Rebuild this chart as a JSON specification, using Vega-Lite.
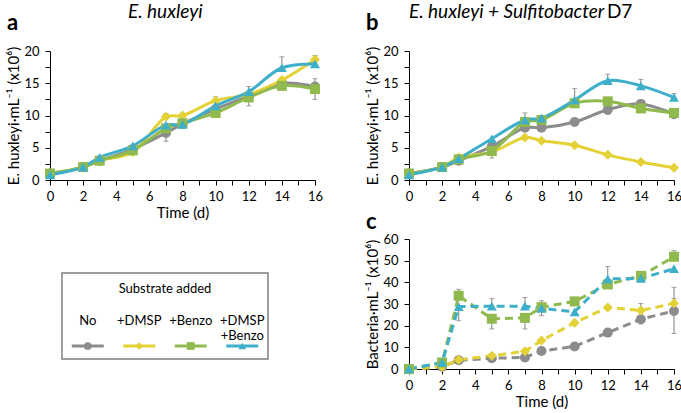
{
 "$schema": "https://vega.github.io/schema/vega-lite/v6.json",
 "padding": {"left": 6, "top": 3, "right": 0, "bottom": 0},
 "title": {"text": "D7", "anchor": "start", "frame": "bounds", "fontSize": 19, "dx": 600, "offset": -19},
 "config": {
  "font": "Lato",
  "view": {"stroke": null},
  "axis": {"domainColor": "black", "tickColor": "black", "labelColor": "black", "titleColor": "black", "labelFontSize": 13, "titleFontSize": 15, "titleFontWeight": "normal", "grid": false, "tickSize": 5, "labelPadding": 5, "labelFlush": false, "labelOverlap": false},
  "axisY": {"labelPadding": 6},
  "title": {"color": "black", "fontWeight": "normal"}
 },
 "datasets": {
  "d": [
   {"p":"a","s":"No","day":0,"v":1},{"p":"a","s":"No","day":2,"v":2},{"p":"a","s":"No","day":3,"v":3},{"p":"a","s":"No","day":5,"v":4.8},{"p":"a","s":"No","day":7,"v":7.3},{"p":"a","s":"No","day":8,"v":8.7},{"p":"a","s":"No","day":10,"v":11},{"p":"a","s":"No","day":12,"v":13},{"p":"a","s":"No","day":14,"v":15},{"p":"a","s":"No","day":16,"v":14.5},
   {"p":"a","s":"+DMSP","day":0,"v":1},{"p":"a","s":"+DMSP","day":2,"v":2},{"p":"a","s":"+DMSP","day":3,"v":3},{"p":"a","s":"+DMSP","day":5,"v":4.3},{"p":"a","s":"+DMSP","day":7,"v":9.8},{"p":"a","s":"+DMSP","day":8,"v":10},{"p":"a","s":"+DMSP","day":10,"v":12.3},{"p":"a","s":"+DMSP","day":12,"v":13.3},{"p":"a","s":"+DMSP","day":14,"v":15.5},{"p":"a","s":"+DMSP","day":16,"v":18.7},
   {"p":"a","s":"+Benzo","day":0,"v":1},{"p":"a","s":"+Benzo","day":2,"v":2},{"p":"a","s":"+Benzo","day":3,"v":3},{"p":"a","s":"+Benzo","day":5,"v":4.6},{"p":"a","s":"+Benzo","day":7,"v":8},{"p":"a","s":"+Benzo","day":8,"v":8.8},{"p":"a","s":"+Benzo","day":10,"v":10.4},{"p":"a","s":"+Benzo","day":12,"v":12.8},{"p":"a","s":"+Benzo","day":14,"v":14.6},{"p":"a","s":"+Benzo","day":16,"v":14.1},
   {"p":"a","s":"+DMSP +Benzo","day":0,"v":0.8},{"p":"a","s":"+DMSP +Benzo","day":2,"v":2},{"p":"a","s":"+DMSP +Benzo","day":3,"v":3.5},{"p":"a","s":"+DMSP +Benzo","day":5,"v":5.3},{"p":"a","s":"+DMSP +Benzo","day":7,"v":8.5},{"p":"a","s":"+DMSP +Benzo","day":8,"v":8.6},{"p":"a","s":"+DMSP +Benzo","day":10,"v":11.5},{"p":"a","s":"+DMSP +Benzo","day":12,"v":13.7},{"p":"a","s":"+DMSP +Benzo","day":14,"v":17.4},{"p":"a","s":"+DMSP +Benzo","day":16,"v":18},
   {"p":"b","s":"No","day":0,"v":1},{"p":"b","s":"No","day":2,"v":2},{"p":"b","s":"No","day":3,"v":3},{"p":"b","s":"No","day":5,"v":5.2},{"p":"b","s":"No","day":7,"v":8.1},{"p":"b","s":"No","day":8,"v":8.1},{"p":"b","s":"No","day":10,"v":9},{"p":"b","s":"No","day":12,"v":10.9},{"p":"b","s":"No","day":14,"v":11.8},{"p":"b","s":"No","day":16,"v":10.2},
   {"p":"b","s":"+DMSP","day":0,"v":1},{"p":"b","s":"+DMSP","day":2,"v":2},{"p":"b","s":"+DMSP","day":3,"v":3.5},{"p":"b","s":"+DMSP","day":5,"v":4.3},{"p":"b","s":"+DMSP","day":7,"v":6.6},{"p":"b","s":"+DMSP","day":8,"v":6.1},{"p":"b","s":"+DMSP","day":10,"v":5.4},{"p":"b","s":"+DMSP","day":12,"v":3.9},{"p":"b","s":"+DMSP","day":14,"v":2.8},{"p":"b","s":"+DMSP","day":16,"v":1.9},
   {"p":"b","s":"+Benzo","day":0,"v":1},{"p":"b","s":"+Benzo","day":2,"v":2},{"p":"b","s":"+Benzo","day":3,"v":3.2},{"p":"b","s":"+Benzo","day":5,"v":4.5},{"p":"b","s":"+Benzo","day":7,"v":9},{"p":"b","s":"+Benzo","day":8,"v":9.3},{"p":"b","s":"+Benzo","day":10,"v":11.9},{"p":"b","s":"+Benzo","day":12,"v":12.2},{"p":"b","s":"+Benzo","day":14,"v":11.1},{"p":"b","s":"+Benzo","day":16,"v":10.4},
   {"p":"b","s":"+DMSP +Benzo","day":0,"v":0.8},{"p":"b","s":"+DMSP +Benzo","day":2,"v":2},{"p":"b","s":"+DMSP +Benzo","day":3,"v":3.3},{"p":"b","s":"+DMSP +Benzo","day":5,"v":6.4},{"p":"b","s":"+DMSP +Benzo","day":7,"v":9.3},{"p":"b","s":"+DMSP +Benzo","day":8,"v":9.6},{"p":"b","s":"+DMSP +Benzo","day":10,"v":12.4},{"p":"b","s":"+DMSP +Benzo","day":12,"v":15.4},{"p":"b","s":"+DMSP +Benzo","day":14,"v":14.6},{"p":"b","s":"+DMSP +Benzo","day":16,"v":12.8},
   {"p":"c","s":"No","day":0,"v":0},{"p":"c","s":"No","day":2,"v":1},{"p":"c","s":"No","day":3,"v":4},{"p":"c","s":"No","day":5,"v":5},{"p":"c","s":"No","day":7,"v":5.3},{"p":"c","s":"No","day":8,"v":8.3},{"p":"c","s":"No","day":10,"v":10.4},{"p":"c","s":"No","day":12,"v":16.8},{"p":"c","s":"No","day":14,"v":23},{"p":"c","s":"No","day":16,"v":26.8},
   {"p":"c","s":"+DMSP","day":0,"v":0},{"p":"c","s":"+DMSP","day":2,"v":1},{"p":"c","s":"+DMSP","day":3,"v":4.3},{"p":"c","s":"+DMSP","day":5,"v":6.1},{"p":"c","s":"+DMSP","day":7,"v":8.2},{"p":"c","s":"+DMSP","day":8,"v":13.1},{"p":"c","s":"+DMSP","day":10,"v":21.4},{"p":"c","s":"+DMSP","day":12,"v":28.4},{"p":"c","s":"+DMSP","day":14,"v":27},{"p":"c","s":"+DMSP","day":16,"v":30.3},
   {"p":"c","s":"+Benzo","day":0,"v":0},{"p":"c","s":"+Benzo","day":2,"v":3},{"p":"c","s":"+Benzo","day":3,"v":33.8},{"p":"c","s":"+Benzo","day":5,"v":23.2},{"p":"c","s":"+Benzo","day":7,"v":23.6},{"p":"c","s":"+Benzo","day":8,"v":28.5},{"p":"c","s":"+Benzo","day":10,"v":31.2},{"p":"c","s":"+Benzo","day":12,"v":39},{"p":"c","s":"+Benzo","day":14,"v":43},{"p":"c","s":"+Benzo","day":16,"v":51.8},
   {"p":"c","s":"+DMSP +Benzo","day":0,"v":0},{"p":"c","s":"+DMSP +Benzo","day":2,"v":3},{"p":"c","s":"+DMSP +Benzo","day":3,"v":28.8},{"p":"c","s":"+DMSP +Benzo","day":5,"v":29},{"p":"c","s":"+DMSP +Benzo","day":7,"v":29},{"p":"c","s":"+DMSP +Benzo","day":8,"v":28},{"p":"c","s":"+DMSP +Benzo","day":10,"v":26.4},{"p":"c","s":"+DMSP +Benzo","day":12,"v":41.6},{"p":"c","s":"+DMSP +Benzo","day":14,"v":41.8},{"p":"c","s":"+DMSP +Benzo","day":16,"v":46.3}
  ],
  "err": [
   {"p":"a","day":7,"lo":6.0,"hi":7.3},{"p":"a","day":7,"lo":9.8,"hi":10.3},{"p":"a","day":10,"lo":12.3,"hi":12.9},{"p":"a","day":10,"lo":9.7,"hi":10.4},{"p":"a","day":12,"lo":13.7,"hi":14.5},{"p":"a","day":12,"lo":11.5,"hi":13},{"p":"a","day":14,"lo":17.4,"hi":19.1},{"p":"a","day":14,"lo":15,"hi":15.6},{"p":"a","day":16,"lo":18.7,"hi":19.3},{"p":"a","day":16,"lo":12.5,"hi":15.7},
   {"p":"b","day":5,"lo":3.4,"hi":5.2},{"p":"b","day":7,"lo":9.3,"hi":10.4},{"p":"b","day":8,"lo":9.6,"hi":10.0},{"p":"b","day":10,"lo":11.3,"hi":14.2},{"p":"b","day":12,"lo":15.4,"hi":16.4},{"p":"b","day":12,"lo":10.2,"hi":10.9},{"p":"b","day":14,"lo":14.6,"hi":15.6},{"p":"b","day":14,"lo":11.8,"hi":12.4},{"p":"b","day":16,"lo":12.8,"hi":13.4},{"p":"b","day":16,"lo":9.8,"hi":10.4},
   {"p":"c","day":3,"lo":33.8,"hi":36.8},{"p":"c","day":3,"lo":22.3,"hi":28.8},{"p":"c","day":5,"lo":29,"hi":32.5},{"p":"c","day":5,"lo":18.5,"hi":23.2},{"p":"c","day":7,"lo":29,"hi":33},{"p":"c","day":7,"lo":18.5,"hi":23.6},{"p":"c","day":8,"lo":24.6,"hi":31.5},{"p":"c","day":10,"lo":31.2,"hi":33},{"p":"c","day":12,"lo":41.6,"hi":47.3},{"p":"c","day":14,"lo":27,"hi":30.2},{"p":"c","day":14,"lo":20.8,"hi":23},{"p":"c","day":16,"lo":51.8,"hi":54.6},{"p":"c","day":16,"lo":16.4,"hi":37.7},{"p":"c","day":16,"lo":30.3,"hi":32.5}
  ],
  "leg": [{"s":"No"},{"s":"+DMSP"},{"s":"+Benzo"},{"s":"+DMSP +Benzo"}]
 },
 "spacing": 42,
 "hconcat": [
  {
   "title": {"text": "E. huxleyi", "fontStyle": "italic", "fontSize": 19, "anchor": "start", "frame": "bounds", "dx": 121, "offset": -10},
   "spacing": 52,
   "vconcat": [
    {
     "width": 265, "height": 129,
     "title": {"text": "a", "anchor": "start", "frame": "bounds", "fontSize": 22, "fontWeight": "bold", "offset": 10},
     "encoding": {"x": {"field": "day", "type": "quantitative", "scale": {"domain": [0, 16], "nice": false}, "axis": {"title": "Time (d)", "values": [0,1,2,3,4,5,6,7,8,9,10,11,12,13,14,15,16], "labelExpr": "datum.value % 2 === 0 ? datum.label : ''", "titlePadding": 2}}},
     "layer": [
      {"data": {"name": "err"}, "transform": [{"filter": "datum.p === 'a'"}],
       "mark": {"type": "errorbar", "ticks": true, "color": "#7f7f7f", "thickness": 1},
       "encoding": {"y": {"field": "lo", "type": "quantitative", "scale": {"domain": [0, 20], "nice": false}, "axis": {"title": "E. huxleyi·mL⁻¹ (x10⁶)", "values": [0,2.5,5,7.5,10,12.5,15,17.5,20], "labelExpr": "datum.value % 5 === 0 ? datum.label : ''", "titlePadding": 2}}, "y2": {"field": "hi"}}},
      {"data": {"name": "d"}, "transform": [{"filter": "datum.p === 'a'"}],
       "mark": {"type": "line", "strokeWidth": 3, "interpolate": "catmull-rom"},
       "encoding": {"y": {"field": "v", "type": "quantitative", "scale": {"domain": [0, 20], "nice": false}, "axis": {"title": "E. huxleyi·mL⁻¹ (x10⁶)", "values": [0,2.5,5,7.5,10,12.5,15,17.5,20], "labelExpr": "datum.value % 5 === 0 ? datum.label : ''", "titlePadding": 2}},
        "color": {"field": "s", "type": "nominal", "legend": null, "scale": {"domain": ["No", "+DMSP", "+Benzo", "+DMSP +Benzo"], "range": ["#8c8c8c", "#e3d135", "#91ba4e", "#3eafca"]}}}},
      {"data": {"name": "d"}, "transform": [{"filter": "datum.p === 'a'"}],
       "mark": {"type": "point", "filled": true, "opacity": 1, "size": 100},
       "encoding": {"y": {"field": "v", "type": "quantitative", "scale": {"domain": [0, 20], "nice": false}, "axis": {"title": "E. huxleyi·mL⁻¹ (x10⁶)", "values": [0,2.5,5,7.5,10,12.5,15,17.5,20], "labelExpr": "datum.value % 5 === 0 ? datum.label : ''", "titlePadding": 2}},
        "color": {"field": "s", "type": "nominal", "legend": null, "scale": {"domain": ["No", "+DMSP", "+Benzo", "+DMSP +Benzo"], "range": ["#8c8c8c", "#e3d135", "#91ba4e", "#3eafca"]}},
        "shape": {"field": "s", "type": "nominal", "legend": null, "scale": {"domain": ["No", "+DMSP", "+Benzo", "+DMSP +Benzo"], "range": ["circle", "diamond", "square", "triangle-up"]}}}}
     ]
    },
    {
     "spacing": 0,
     "hconcat": [
      {"width": 11, "height": 86, "data": {"values": []}, "mark": "point"},
      {
       "width": 206, "height": 86,
       "view": {"stroke": "#7f7f7f", "strokeWidth": 1.5},
       "title": {"text": "Substrate added", "fontSize": 13, "offset": -23, "anchor": "middle", "frame": "group"},
       "data": {"name": "leg"},
       "encoding": {
        "x": {"field": "s", "type": "nominal", "axis": null, "scale": {"type": "point", "padding": 0.5, "domain": ["No", "+DMSP", "+Benzo", "+DMSP +Benzo"]}}
       },
       "layer": [
        {"mark": {"type": "tick", "orient": "horizontal", "size": 32, "thickness": 3, "yOffset": 30, "opacity": 1},
         "encoding": {"color": {"field": "s", "type": "nominal", "legend": null, "scale": {"domain": ["No", "+DMSP", "+Benzo", "+DMSP +Benzo"], "range": ["#8c8c8c", "#e3d135", "#91ba4e", "#3eafca"]}}}},
        {"mark": {"type": "point", "filled": true, "opacity": 1, "size": 60, "yOffset": 30},
         "encoding": {"color": {"field": "s", "type": "nominal", "legend": null, "scale": {"domain": ["No", "+DMSP", "+Benzo", "+DMSP +Benzo"], "range": ["#8c8c8c", "#e3d135", "#91ba4e", "#3eafca"]}},
          "shape": {"field": "s", "type": "nominal", "legend": null, "scale": {"domain": ["No", "+DMSP", "+Benzo", "+DMSP +Benzo"], "range": ["circle", "diamond", "square", "triangle-up"]}}}},
        {"mark": {"type": "text", "lineBreak": " ", "fontSize": 13, "yOffset": 5, "baseline": "middle", "color": "black"},
         "encoding": {"text": {"field": "s"}}}
       ]
      }
     ]
    }
   ]
  },
  {
   "title": {"text": "E. huxleyi + Sulfitobacter", "fontStyle": "italic", "fontSize": 19, "anchor": "start", "frame": "bounds", "dx": 43, "offset": -10},
   "spacing": 8,
   "vconcat": [
    {
     "width": 265, "height": 129,
     "title": {"text": "b", "anchor": "start", "frame": "bounds", "fontSize": 22, "fontWeight": "bold", "offset": 10},
     "encoding": {"x": {"field": "day", "type": "quantitative", "scale": {"domain": [0, 16], "nice": false}, "axis": {"title": null, "values": [0,1,2,3,4,5,6,7,8,9,10,11,12,13,14,15,16], "labelExpr": "datum.value % 2 === 0 ? datum.label : ''"}}},
     "layer": [
      {"data": {"name": "err"}, "transform": [{"filter": "datum.p === 'b'"}],
       "mark": {"type": "errorbar", "ticks": true, "color": "#7f7f7f", "thickness": 1},
       "encoding": {"y": {"field": "lo", "type": "quantitative", "scale": {"domain": [0, 20], "nice": false}, "axis": {"title": "E. huxleyi·mL⁻¹ (x10⁶)", "values": [0,2.5,5,7.5,10,12.5,15,17.5,20], "labelExpr": "datum.value % 5 === 0 ? datum.label : ''", "titlePadding": 2}}, "y2": {"field": "hi"}}},
      {"data": {"name": "d"}, "transform": [{"filter": "datum.p === 'b'"}],
       "mark": {"type": "line", "strokeWidth": 3, "interpolate": "catmull-rom"},
       "encoding": {"y": {"field": "v", "type": "quantitative", "scale": {"domain": [0, 20], "nice": false}, "axis": {"title": "E. huxleyi·mL⁻¹ (x10⁶)", "values": [0,2.5,5,7.5,10,12.5,15,17.5,20], "labelExpr": "datum.value % 5 === 0 ? datum.label : ''", "titlePadding": 2}},
        "color": {"field": "s", "type": "nominal", "legend": null, "scale": {"domain": ["No", "+DMSP", "+Benzo", "+DMSP +Benzo"], "range": ["#8c8c8c", "#e3d135", "#91ba4e", "#3eafca"]}}}},
      {"data": {"name": "d"}, "transform": [{"filter": "datum.p === 'b'"}],
       "mark": {"type": "point", "filled": true, "opacity": 1, "size": 100},
       "encoding": {"y": {"field": "v", "type": "quantitative", "scale": {"domain": [0, 20], "nice": false}, "axis": {"title": "E. huxleyi·mL⁻¹ (x10⁶)", "values": [0,2.5,5,7.5,10,12.5,15,17.5,20], "labelExpr": "datum.value % 5 === 0 ? datum.label : ''", "titlePadding": 2}},
        "color": {"field": "s", "type": "nominal", "legend": null, "scale": {"domain": ["No", "+DMSP", "+Benzo", "+DMSP +Benzo"], "range": ["#8c8c8c", "#e3d135", "#91ba4e", "#3eafca"]}},
        "shape": {"field": "s", "type": "nominal", "legend": null, "scale": {"domain": ["No", "+DMSP", "+Benzo", "+DMSP +Benzo"], "range": ["circle", "diamond", "square", "triangle-up"]}}}}
     ]
    },
    {
     "width": 265, "height": 130,
     "title": {"text": "c", "anchor": "start", "frame": "bounds", "fontSize": 22, "fontWeight": "bold", "offset": -1},
     "encoding": {"x": {"field": "day", "type": "quantitative", "scale": {"domain": [0, 16], "nice": false}, "axis": {"title": "Time (d)", "values": [0,1,2,3,4,5,6,7,8,9,10,11,12,13,14,15,16], "labelExpr": "datum.value % 2 === 0 ? datum.label : ''", "titlePadding": 2}}},
     "layer": [
      {"data": {"name": "err"}, "transform": [{"filter": "datum.p === 'c'"}],
       "mark": {"type": "errorbar", "ticks": true, "color": "#7f7f7f", "thickness": 1},
       "encoding": {"y": {"field": "lo", "type": "quantitative", "scale": {"domain": [0, 60], "nice": false}, "axis": {"title": "Bacteria·mL⁻¹ (x10⁶)", "values": [0,10,20,30,40,50,60], "titlePadding": 2}}, "y2": {"field": "hi"}}},
      {"data": {"name": "d"}, "transform": [{"filter": "datum.p === 'c'"}],
       "mark": {"type": "line", "strokeWidth": 3, "strokeDash": [8, 5]},
       "encoding": {"y": {"field": "v", "type": "quantitative", "scale": {"domain": [0, 60], "nice": false}, "axis": {"title": "Bacteria·mL⁻¹ (x10⁶)", "values": [0,10,20,30,40,50,60], "titlePadding": 2}},
        "color": {"field": "s", "type": "nominal", "legend": null, "scale": {"domain": ["No", "+DMSP", "+Benzo", "+DMSP +Benzo"], "range": ["#8c8c8c", "#e3d135", "#91ba4e", "#3eafca"]}}}},
      {"data": {"name": "d"}, "transform": [{"filter": "datum.p === 'c'"}],
       "mark": {"type": "point", "filled": true, "opacity": 1, "size": 100},
       "encoding": {"y": {"field": "v", "type": "quantitative", "scale": {"domain": [0, 60], "nice": false}, "axis": {"title": "Bacteria·mL⁻¹ (x10⁶)", "values": [0,10,20,30,40,50,60], "titlePadding": 2}},
        "color": {"field": "s", "type": "nominal", "legend": null, "scale": {"domain": ["No", "+DMSP", "+Benzo", "+DMSP +Benzo"], "range": ["#8c8c8c", "#e3d135", "#91ba4e", "#3eafca"]}},
        "shape": {"field": "s", "type": "nominal", "legend": null, "scale": {"domain": ["No", "+DMSP", "+Benzo", "+DMSP +Benzo"], "range": ["circle", "diamond", "square", "triangle-up"]}}}}
     ]
    }
   ]
  }
 ]
}
